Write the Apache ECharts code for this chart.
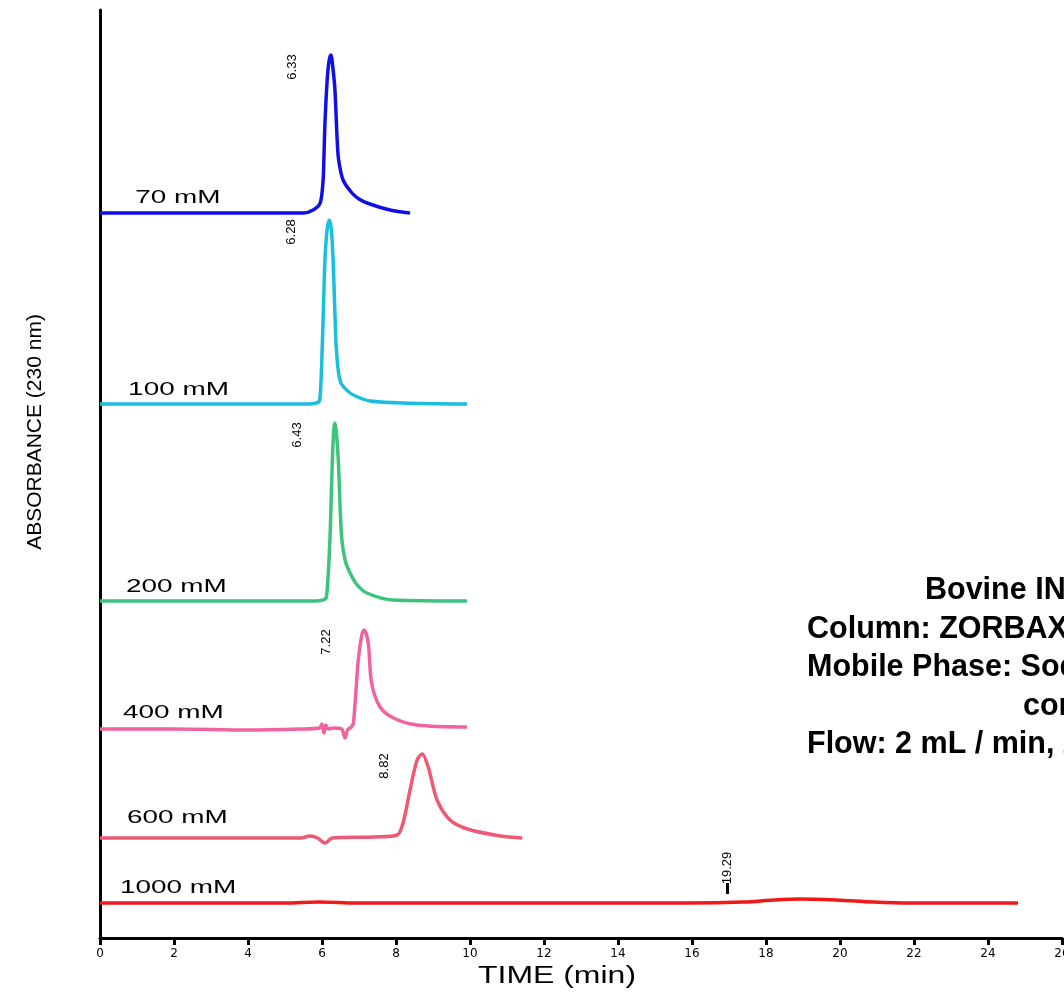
<!DOCTYPE html>
<html>
<head>
<meta charset="utf-8">
<style>html,body{margin:0;padding:0;background:#fff;overflow:hidden}#chart{width:1064px;height:992px}</style>
<script src="https://cdn.jsdelivr.net/npm/echarts@6/dist/echarts.min.js"></script>
</head>
<body>
<div id="chart"></div>
<script>
// salt concentrations, one chromatogram each
var concentrations = ['70 mM', '100 mM', '200 mM', '400 mM', '600 mM', '1000 mM'];
// baseline offset of each stacked trace (absorbance units of the plot)
var baselines = [725, 534, 337, 209, 100, 35];
// retention times printed next to the peaks
var peakLabels = ['6.33', '6.28', '6.43', '7.22', '8.82', '19.29'];
var xTicks = [0, 2, 4, 6, 8, 10, 12, 14, 16, 18, 20, 22, 24, 26];

// traces: time (min) and signal above baseline
var time70 = [0, 3, 5.5, 5.76, 5.95, 6.03, 6.05, 6.08, 6.14, 6.19, 6.24, 6.3, 6.35, 6.41, 6.45, 6.57, 6.81, 7.0, 7.22, 7.84, 8.38];
var abs70 = [0, 0, 0, 3, 10, 33, 53, 90, 133, 152, 158, 143, 123, 73, 53, 33, 20, 14, 10, 3, 0];
var time100 = [0, 3, 5.53, 5.85, 5.94, 6.01, 6.08, 6.14, 6.2, 6.25, 6.3, 6.35, 6.39, 6.5, 6.76, 7.03, 7.3, 8.19, 9.92];
var abs100 = [0, 0, 0, 1, 4, 61, 144, 175, 184, 175, 144, 90, 54, 22, 11, 6, 3, 1, 0];
var time200 = [0, 3, 5.73, 6.03, 6.12, 6.21, 6.28, 6.32, 6.35, 6.39, 6.44, 6.53, 6.63, 6.76, 6.93, 7.21, 7.92, 9.92];
var abs200 = [0, 0, 0, 1, 4, 58, 141, 172, 178, 168, 141, 64, 40, 28, 17, 8, 1, 0];
var time400 = [0, 2, 4, 5.43, 5.93, 6.0, 6.05, 6.1, 6.17, 6.33, 6.53, 6.62, 6.69, 6.79, 6.85, 6.98, 7.08, 7.14, 7.25, 7.34, 7.57, 7.93, 8.56, 9.92];
var abs400 = [0, 0, -1, 0, 1, 5, -4, 4, 0, 1, 0, -9, -1, 2, 6, 69, 95, 99, 86, 46, 22, 11, 4, 2];
var time600 = [0, 3, 5.43, 5.67, 5.88, 6.08, 6.28, 7.43, 8.03, 8.19, 8.38, 8.57, 8.71, 8.87, 9.11, 9.46, 9.93, 10.82, 11.41];
var abs600 = [0, 0, 0, 2, 0, -5, 0, 1, 3, 15, 48, 78, 84, 71, 38, 18, 9, 2, 0];
var time1000 = [0, 5, 5.93, 6.93, 9.93, 15.9, 17.4, 18.2, 18.9, 19.9, 20.9, 21.9, 24.81];
var abs1000 = [0, 0, 1, 0, 0, 0, 1, 3, 4, 3, 1, 0, 0];

var times = [time70, time100, time200, time400, time600, time1000];
var signals = [abs70, abs100, abs200, abs400, abs600, abs1000];
var colors = ['#1010e6', '#19bfdc', '#3cc47c', '#f062a0', '#ee5a76', '#f01818'];

var myChart = echarts.init(document.getElementById('chart'));

var series = concentrations.map(function (name, k) {
  return {
    name: name,
    type: 'line',
    smooth: 0.3,
    symbol: 'none',
    lineStyle: { color: colors[k], width: 3.5, join: 'round' },
    data: times[k].map(function (t, i) { return [t, baselines[k] + signals[k][i]]; })
  };
});

var option = {
  animation: false,
  grid: { left: 100, right: 2, top: 10, bottom: 54, outerBoundsMode: 'none' },
  xAxis: {
    type: 'value',
    min: xTicks[0],
    max: xTicks[xTicks.length - 1],
    interval: 2,
    axisLine: { lineStyle: { color: '#000', width: 3 } },
    axisTick: { length: 7, lineStyle: { color: '#000', width: 3 } },
    axisLabel: { color: '#000', fontFamily: 'DejaVu Sans', fontSize: 12, margin: 10 },
    splitLine: { show: false }
  },
  yAxis: {
    type: 'value',
    min: 0,
    max: 928,
    axisLine: { show: true, lineStyle: { color: '#000', width: 3 } },
    axisTick: { show: false },
    axisLabel: { show: false },
    splitLine: { show: false }
  },
  series: series
};
myChart.setOption(option);

// annotations placed from the chart's own coordinate system
var graphics = [];
var labelAt = [0.95, 0.76, 0.7, 0.62, 0.73, 0.54];
var labelRise = [15, 14, 14, 16, 20, 15];
concentrations.forEach(function (name, k) {
  var p = myChart.convertToPixel({ gridIndex: 0 }, [labelAt[k], baselines[k]]);
  graphics.push({
    type: 'text', x: p[0], y: p[1] - labelRise[k], scaleX: 1.55,
    style: { text: name, align: 'left', verticalAlign: 'middle', fill: '#000',
      font: '18px "Liberation Sans", Arial, sans-serif' }
  });
  var anchor;
  if (k < 5) {
    var s = signals[k], m = 0;
    for (var i = 1; i < s.length; i++) if (s[i] > s[m]) m = i;
    var top = myChart.convertToPixel({ gridIndex: 0 }, [times[k][m], baselines[k] + s[m]]);
    anchor = [top[0] - 38, top[1] + 12];
  } else {
    var b = myChart.convertToPixel({ gridIndex: 0 }, [16.96, baselines[k]]);
    anchor = [b[0], b[1] - 35];
    graphics.push({
      type: 'line', shape: { x1: b[0], y1: b[1] - 20, x2: b[0], y2: b[1] - 9 },
      style: { stroke: '#000', lineWidth: 3 }
    });
  }
  graphics.push({
    type: 'text', x: anchor[0], y: anchor[1], rotation: Math.PI / 2,
    style: { text: peakLabels[k], align: 'center', verticalAlign: 'middle', fill: '#000',
      font: '13px "Liberation Sans Narrow", "Liberation Sans", sans-serif' }
  });
});

// axis titles
graphics.push({
  type: 'text', x: 557, y: 977, scaleX: 1.39,
  style: { text: 'TIME (min)', align: 'center', verticalAlign: 'middle', fill: '#000',
    font: '23px "Liberation Sans", Arial, sans-serif' }
});
graphics.push({
  type: 'text', x: 35, y: 432, rotation: Math.PI / 2,
  style: { text: 'ABSORBANCE (230 nm)', align: 'center', verticalAlign: 'middle', fill: '#000',
    font: '21px "Liberation Sans Narrow", "Liberation Sans", sans-serif' }
});

// method description (cut off by the right edge as in the source figure)
var notes = ['Bovine INSULIN', 'Column: ZORBAX GF-250', 'Mobile Phase: Sodium Phosphate', 'concentrations as shown', 'Flow: 2 mL / min, 230 nm'];
var noteLeft = [925, 807, 807, 1023, 807];
notes.forEach(function (t, i) {
  graphics.push({
    type: 'text', x: noteLeft[i], y: 591 + i * 38.4,
    style: { text: t, align: 'left', verticalAlign: 'middle', fill: '#000',
      font: 'bold 30.5px "Liberation Sans", Arial, sans-serif' }
  });
});

myChart.setOption({ graphic: graphics });
</script>
</body>
</html>
